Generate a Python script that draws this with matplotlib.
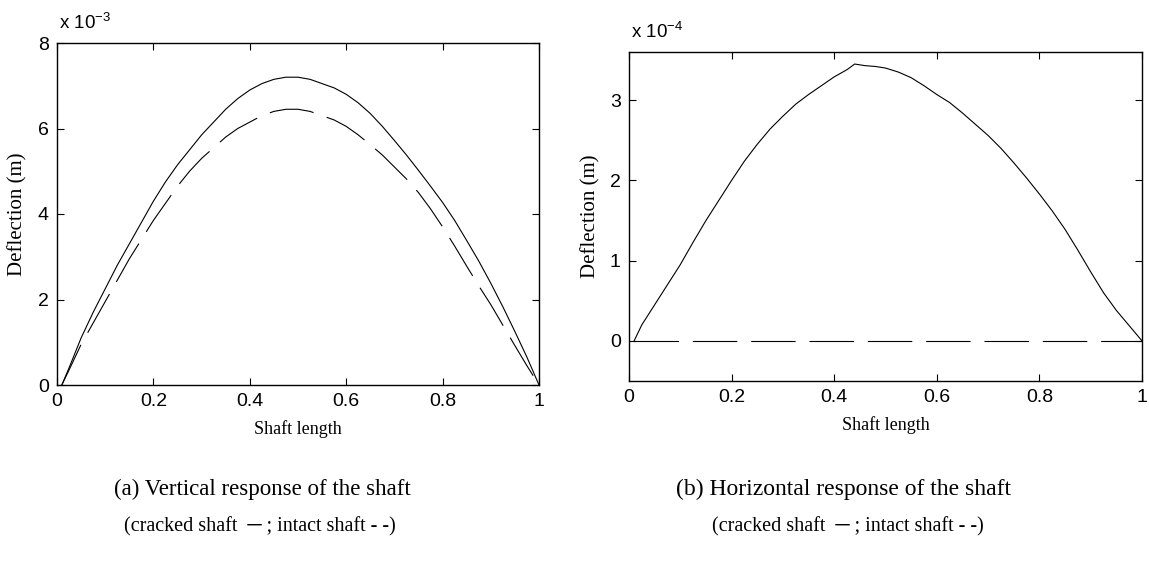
import matplotlib
matplotlib.use('Agg')
import matplotlib.pyplot as plt

# 位置（軸長比例）
x_pos = [0.01, 0.025, 0.05, 0.075, 0.1, 0.125, 0.15, 0.175, 0.2, 0.225, 0.25,
         0.275, 0.3, 0.325, 0.35, 0.375, 0.4, 0.425, 0.45, 0.475, 0.5,
         0.525, 0.55, 0.575, 0.6, 0.625, 0.65, 0.675, 0.7, 0.725, 0.75,
         0.775, 0.8, 0.825, 0.85, 0.875, 0.9, 0.925, 0.95, 0.975, 1.0]

# 垂直反應 (x 10^-3 m)
vert_cracked = [0.0, 0.4, 1.1, 1.7, 2.25, 2.8, 3.3, 3.8, 4.3, 4.75, 5.15,
                5.5, 5.85, 6.15, 6.45, 6.7, 6.9, 7.05, 7.15, 7.2, 7.2,
                7.15, 7.05, 6.95, 6.8, 6.6, 6.35, 6.05, 5.72, 5.38, 5.02,
                4.65, 4.27, 3.85, 3.38, 2.9, 2.38, 1.83, 1.25, 0.65, 0.0]
vert_intact = [0.0, 0.35, 0.95, 1.45, 1.95, 2.45, 2.95, 3.4, 3.85, 4.25, 4.65,
               5.0, 5.3, 5.55, 5.8, 6.0, 6.15, 6.3, 6.4, 6.45, 6.45,
               6.4, 6.3, 6.2, 6.05, 5.85, 5.62, 5.38, 5.1, 4.82, 4.5,
               4.12, 3.7, 3.25, 2.78, 2.32, 1.88, 1.4, 0.92, 0.45, 0.0]

# 水平反應 (x 10^-4 m)
horiz_x = [0.01, 0.025, 0.05, 0.075, 0.1, 0.125, 0.15, 0.175, 0.2, 0.225, 0.25,
           0.275, 0.3, 0.325, 0.35, 0.375, 0.4, 0.425, 0.44, 0.46, 0.48, 0.5,
           0.525, 0.55, 0.575, 0.6, 0.625, 0.65, 0.675, 0.7, 0.725, 0.75,
           0.775, 0.8, 0.825, 0.85, 0.875, 0.9, 0.925, 0.95, 0.975, 1.0]
horiz_cracked = [0.0, 0.2, 0.45, 0.7, 0.95, 1.23, 1.5, 1.75, 2.0, 2.24, 2.45,
                 2.64, 2.8, 2.95, 3.07, 3.18, 3.29, 3.38, 3.45, 3.43, 3.42, 3.4,
                 3.35, 3.28, 3.18, 3.07, 2.97, 2.84, 2.7, 2.56, 2.4, 2.22,
                 2.03, 1.83, 1.62, 1.39, 1.13, 0.86, 0.6, 0.38, 0.19, 0.0]
horiz_intact = [0.0] * len(horiz_x)

xticks = [0, 0.2, 0.4, 0.6, 0.8, 1]
xticklabels = ['0', '0.2', '0.4', '0.6', '0.8', '1']

plt.rcParams['font.family'] = 'Liberation Sans'
plt.rcParams['lines.scale_dashes'] = False

fig = plt.figure(figsize=(11.49, 5.69), dpi=100)
W, H = 1149, 569

def axes_px(l, r, t, b):
    return fig.add_axes([l / W, (H - b) / H, (r - l) / W, (b - t) / H])

ax1 = axes_px(57, 539, 43, 385)
ax2 = axes_px(629, 1142, 52, 381)

serif = 'Liberation Serif'
dash = (32, 10)

ax1.plot(x_pos, vert_cracked, color='black', lw=0.8)
ax1.plot(x_pos, vert_intact, color='black', lw=0.8, dashes=dash)
ax1.set_xlim(0, 1)
ax1.set_ylim(0, 8)
ax1.set_yticks([0, 2, 4, 6, 8])

ax2.plot(horiz_x, horiz_cracked, color='black', lw=0.8)
ax2.plot(horiz_x, horiz_intact, color='black', lw=0.8, dashes=dash)
ax2.set_xlim(0, 1)
ax2.set_ylim(-0.5, 3.6)
ax2.set_yticks([0, 1, 2, 3])

for ax, expo in [(ax1, '-3'), (ax2, '-4')]:
    ax.set_xticks(xticks)
    ax.set_xticklabels(xticklabels)
    ax.tick_params(direction='in', top=True, right=True, length=5, width=0.8,
                   labelsize=14, pad=6)
    for sp in ax.spines.values():
        sp.set_linewidth(1.0)
    ax.set_xlabel('Shaft length', family=serif, fontsize=13, labelpad=7)
    ax.set_ylabel('Deflection (m)', family=serif, fontsize=15, labelpad=7)
    ax.text(0.004, 1.03, 'x 10$^{\\mathregular{' + expo + '}}$', transform=ax.transAxes,
            fontsize=13.5, ha='left', va='bottom')

# 圖說
fig.text(262 / W, 1 - 489 / H, '(a) Vertical response of the shaft',
         family=serif, fontsize=16.5, ha='center', va='center')
fig.text(260 / W, 1 - 527 / H, '(cracked shaft  \u2500 ; intact shaft - -)',
         family=serif, fontsize=14.5, ha='center', va='center')
fig.text(843 / W, 1 - 489 / H, '(b) Horizontal response of the shaft',
         family=serif, fontsize=17, ha='center', va='center')
fig.text(848 / W, 1 - 527 / H, '(cracked shaft  \u2500 ; intact shaft - -)',
         family=serif, fontsize=14.5, ha='center', va='center')

fig.savefig('out.png', dpi=100)
